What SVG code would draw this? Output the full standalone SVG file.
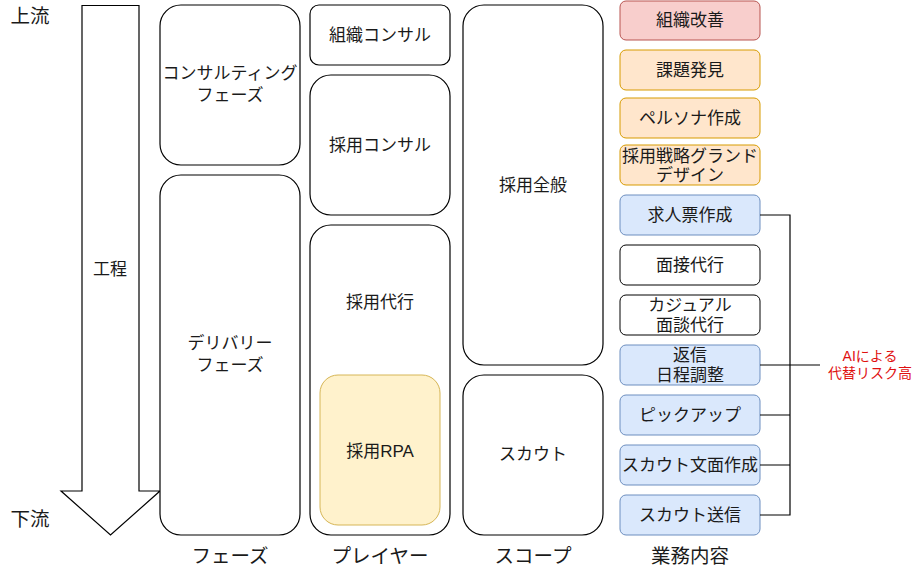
<svg xmlns="http://www.w3.org/2000/svg" width="921" height="574" viewBox="0 0 921 574">
<style>
text{font-family:"Liberation Sans","Noto Sans CJK JP",sans-serif;fill:#1a1a1a;text-anchor:middle;dominant-baseline:central;font-size:17px}
.b{fill:#fff;stroke:#000;stroke-width:1.2}
.red{fill:#f8cecc;stroke:#b85450}
.org{fill:#ffe6cc;stroke:#d79b00}
.blu{fill:#dae8fc;stroke:#6c8ebf}
.wh{fill:#fff;stroke:#000}
.yel{fill:#fff2cc;stroke:#d6b656}
.lbl{font-size:19.5px}
.ln{fill:none;stroke:#000;stroke-width:1.2}
.ai{fill:#e01010;font-size:14px}
</style>
<rect width="921" height="574" fill="#fff"/>
<g id="upstream"><text x="30" y="16" class="lbl">上流</text></g>
<g id="downstream"><text x="30" y="519" class="lbl">下流</text></g>
<g id="process-arrow">
<polygon class="b" points="82,5.5 139,5.5 139,491 160,491 110.5,535 61,491 82,491"/>
<text x="110" y="269">工程</text>
</g>
<g id="phase-consulting"><rect class="b" x="160" y="5" width="140" height="160" rx="21"/><text x="230" y="73">コンサルティング</text><text x="230" y="95">フェーズ</text></g>
<g id="phase-delivery"><rect class="b" x="160" y="175" width="140" height="360" rx="21"/><text x="230" y="343">デリバリー</text><text x="230" y="365">フェーズ</text></g>
<g id="player-org"><rect class="b" x="310" y="5" width="140" height="60" rx="9"/><text x="380" y="35">組織コンサル</text></g>
<g id="player-recruit-consul"><rect class="b" x="310" y="75" width="140" height="140" rx="21"/><text x="380" y="145">採用コンサル</text></g>
<g id="player-agency"><rect class="b" x="310" y="225" width="140" height="310" rx="21"/><text x="380" y="302">採用代行</text></g>
<g id="player-rpa"><rect class="yel" x="320" y="375" width="120" height="150" rx="18"/><text x="380" y="451">採用RPA</text></g>
<g id="scope-all"><rect class="b" x="463" y="5" width="140" height="360" rx="21"/><text x="533" y="185">採用全般</text></g>
<g id="scope-scout"><rect class="b" x="463" y="375" width="140" height="160" rx="21"/><text x="533" y="454">スカウト</text></g>
<g id="task-org"><rect class="red" x="620" y="1" width="140" height="39" rx="6"/><text x="690" y="20.5">組織改善</text></g>
<g id="task-issue"><rect class="org" x="620" y="50" width="140" height="40" rx="6"/><text x="690" y="70">課題発見</text></g>
<g id="task-persona"><rect class="org" x="620" y="98" width="140" height="40" rx="6"/><text x="690" y="118">ペルソナ作成</text></g>
<g id="task-strategy"><rect class="org" x="620" y="145" width="140" height="40" rx="6"/><text x="690" y="156">採用戦略グランド</text><text x="690" y="175">デザイン</text></g>
<g id="task-jobpost"><rect class="blu" x="620" y="195" width="140" height="40" rx="6"/><text x="690" y="215">求人票作成</text></g>
<g id="task-interview"><rect class="wh" x="620" y="245" width="140" height="40" rx="6"/><text x="690" y="265">面接代行</text></g>
<g id="task-casual"><rect class="wh" x="620" y="295" width="140" height="40" rx="6"/><text x="690" y="305">カジュアル</text><text x="690" y="325">面談代行</text></g>
<g id="task-reply"><rect class="blu" x="620" y="345" width="140" height="40" rx="6"/><text x="690" y="355">返信</text><text x="690" y="375">日程調整</text></g>
<g id="task-pickup"><rect class="blu" x="620" y="395" width="140" height="40" rx="6"/><text x="690" y="415">ピックアップ</text></g>
<g id="task-scoutmsg"><rect class="blu" x="620" y="445" width="140" height="40" rx="6"/><text x="690" y="465">スカウト文面作成</text></g>
<g id="task-scoutsend"><rect class="blu" x="620" y="495" width="140" height="40" rx="6"/><text x="690" y="515">スカウト送信</text></g>
<g id="connectors">
<path class="ln" d="M760,215 H790 V515 H760 M760,365 H820 M760,415 H790 M760,465 H790"/>
</g>
<g id="ai-label"><text x="870" y="356" class="ai">AIによる</text><text x="870" y="373" class="ai">代替リスク高</text></g>
<g id="col-labels">
<text x="230" y="556" class="lbl">フェーズ</text>
<text x="380" y="556" class="lbl">プレイヤー</text>
<text x="533" y="556" class="lbl">スコープ</text>
<text x="690" y="556" class="lbl">業務内容</text>
</g>
</svg>
